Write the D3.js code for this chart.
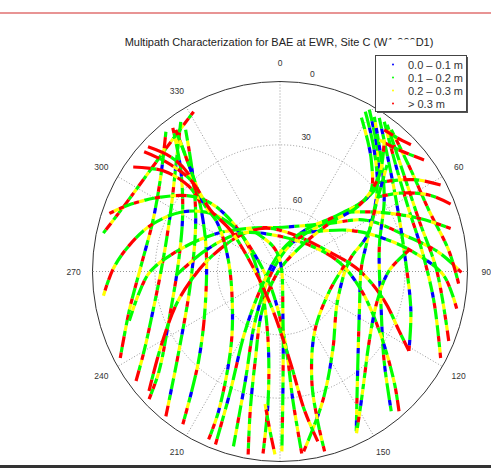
<!DOCTYPE html>
<html><head><meta charset="utf-8">
<script src="https://cdn.jsdelivr.net/npm/d3@7"></script>
<style>
body { margin: 0; background: #fff; }
svg { display: block; font-family: "Liberation Sans", Arial, sans-serif; }
.grid { fill: none; stroke: #8a8a8a; stroke-width: 0.9; stroke-dasharray: 1,2; }
.tick { font-size: 8.5px; fill: #333; }
</style></head><body>
<svg id="chart" width="491" height="468"></svg>
<script>
// azimuth spokes and elevation rings
const azTicks = [0, 30, 60, 90, 120, 150, 180, 210, 240, 270, 300, 330];
const elRings = [30, 60];
const elLabels = [0, 30, 60];

// multipath classes
const classCodes = ["b", "g", "y", "r"];
const classLabels = ["0.0 \u2013 0.1 m", "0.1 \u2013 0.2 m", "0.2 \u2013 0.3 m", "> 0.3 m"];
const classColors = { b: "#0000ff", g: "#00ff00", y: "#ffff00", r: "#ff0000" };

// satellite tracks: [azimuth deg, elevation deg]
const trackPath = [
  [[331.3,3.7],[319.5,9.3],[306.9,11.4],[293.7,9.4],[282.1,3.3]],
  [[320.4,4.1],[308.7,16.8],[291.7,24.4],[272.5,23.3],[255.6,15.3],[241.9,3.1]],
  [[326.1,4.6],[315.3,19.0],[299.0,30.1],[275.3,33.6],[253.1,26.3],[240.0,14.7],[233.1,3.6]],
  [[322.9,4.7],[315.3,22.3],[299.7,36.2],[276.2,41.1],[246.4,31.8],[230.9,15.2],[226.1,2.8]],
  [[326.0,9.0],[317.5,28.0],[301.0,42.8],[264.3,47.0],[232.2,28.6],[218.6,2.2]],
  [[322.5,10.2],[315.3,32.4],[292.5,51.3],[248.9,51.7],[222.7,32.4],[212.8,3.9]],
  [[305.1,3.9],[310.5,16.7],[312.7,30.3],[310.4,40.0]],
  [[313.0,3.4],[316.0,14.6],[316.5,25.7],[311.7,37.7]],
  [[288.6,3.6],[294.1,11.8],[301.7,22.9],[309.8,34.2],[314.2,43.5],[315.6,57.3],[305.0,72.6],[223.5,77.5],[189.9,56.7],[185.3,28.3],[185.4,3.4]],
  [[262.3,4.5],[271.0,10.0],[279.7,16.6],[289.5,24.3],[300.5,34.7],[309.6,46.7],[313.7,60.4],[302.6,75.9],[202.8,80.2],[175.9,57.0],[174.2,28.2],[173.1,3.2]],
  [[252.1,14.0],[261.6,21.7],[270.4,28.1],[283.9,42.4],[301.1,55.0],[325.1,65.0],[3.9,69.0],[46.2,57.0],[59.6,42.0],[75.3,26.0],[83.2,13.3],[90.3,2.9]],
  [[228.0,5.4],[238.3,22.9],[252.1,37.4],[264.3,47.0],[281.3,56.0],[312.0,64.4],[340.8,68.3],[14.7,71.3],[65.9,65.5],[89.3,51.9],[105.4,38.1],[116.2,26.3],[121.3,17.6]],
  [[29.2,2.2],[39.0,15.9],[49.1,28.9],[48.9,45.8],[40.1,62.6],[21.0,76.7],[248.2,84.9],[207.0,63.8],[197.8,35.5],[195.1,4.2]],
  [[28.2,7.3],[39.6,21.3],[49.8,33.9],[46.5,50.6],[31.4,67.1],[0,81.0],[232.1,79.1],[210.7,57.3],[202.8,28.5],[200.7,2.4]],
  [[28.4,3.9],[38.1,16.8],[50.4,29.5],[70.6,45.6],[87.2,50.9],[116.0,47.6],[144.4,26.2],[154.2,5.9]],
  [[31.7,3.9],[42.6,18.2],[55.9,29.6],[76.5,41.0],[110.9,38.0],[130.3,24.5],[141.1,5.0]],
  [[33.2,3.0],[46.1,17.2],[58.7,24.8],[80.5,29.6],[106.5,24.5],[121.3,17.6]],
  [[35.2,3.2],[49.4,16.0],[64.9,21.6],[81.6,21.2],[100.6,14.9],[118.0,2.7]],
  [[36.5,3.5],[52.5,15.0],[70.0,19.0],[89.6,14.8],[112.1,2.6]],
  [[38.5,4.2],[52.6,10.9],[67.9,12.9],[83.0,8.4],[93.8,4.1]],
  [[36.7,6.3],[41.6,5.3],[46.3,3.1]],
  [[37.4,11.5],[44.8,8.9],[52.6,3.0]],
  [[47.8,27.6],[52.8,18.3],[57.0,10.5],[62.0,2.7]],
  [[53.0,31.5],[57.0,21.9],[63.1,9.9],[68.7,2.1]],
  [[47.8,48.2],[59.5,34.7],[69.3,18.7],[76.0,5.6]],
  [[27.8,69.6],[59.6,51.4],[74.3,35.6],[83.5,22.9],[91.4,11.4],[101.7,3.4]],
  [[38.7,10.0],[46.2,24.0],[50.5,40.6],[46.2,57.0],[39.8,75.1],[236.3,88.3],[204.8,69.5],[195.7,46.0],[192.2,22.3],[190.0,2.0]],
  [[172.4,4.0],[161.6,25.2],[146.1,44.7],[116.6,59.1],[81.1,56.3],[67.7,44.7],[54.1,32.4],[45.5,18.0]],
  [[186.5,26.8],[183.6,14.1],[181.6,3.3]],
  [[267.8,40.0],[285.6,52.9],[313.5,63.7],[352.1,72.7],[49.1,71.1],[81.5,61.1],[103.0,49.9],[120.5,34.7],[133.5,14.6],[139.2,2.6]],
  [[327.3,67.9],[342.9,77.0],[0,84.8],[176.3,68.0],[178.4,38.1],[179.4,4.8]],
  [[154.4,5.0],[147.6,17.2],[141.3,25.3],[127.5,36.0],[106.5,41.3],[89.5,37.6],[80.8,27.3]],
  [[323.3,6.3],[318.3,25.6],[311.4,41.1],[307.3,52.3],[281.9,64.7],[230.9,60.6],[212.3,45.5],[204.0,17.5],[203.3,3.4]],
  [[311.0,3.6],[313.5,14.6],[315.3,29.1],[311.1,45.8],[309.4,59.2],[278.4,77.0],[190.2,71.1],[173.6,47.3],[169.8,22.8],[167.3,7.5]],
  [[165.9,2.1],[165.7,16.8],[163.6,35.9],[149.3,57.3],[110.8,64.5],[84.7,58.9]]
];

// multipath class along each track, one letter per stretch
const trackClass = [
  "rgrrygrgyrrgyggrrgygrrgyrgrrygrgyrrg",
  "grryggbgygrgggbyggrygbgrgyygrggrygrgygrrgr",
  "ggrygyggbggyrgyggbgyrggygrggyrgrgygbggrgyggrygrr",
  "rgygggbgbgyggrgygbgggyrgyggbrgyggrgygbggrgyggygrgr",
  "ggyrgggbyggygrggbgyggygrbgygggyrgyrgbggygrggyggbgyrr",
  "rggyggbgggyrggbbgggygrgybggrygyggrrgygbggyrgggbgyrgr",
  "rrrgrrryrrrgrr",
  "rrrrgrrryrrr",
  "ryrggryggrggyrrggyrgygbggyrgggrygggbgyggrggyggrgrygbggyrgygggbyrggyrgr",
  "yrgrryggrgrrggyrggygggbgyggrygggbggyrgbggyggrggbygryrgygbgyrggygbggrygyrggr",
  "ggygyggrgyggyggrgygggyggbgygggyggrygggbgyggyrggyrgyggbgygrggygggyrgygggyr",
  "rrgrrrgyrrrgrrrgyrrrgrrrygrrrgrrgyrrrgryrrgrrrgyrrrgrrrygrrgrrrgyrrgrr",
  "ggbggbgygbggbggyrggygbgggyggrbgygggbrgygggbggygbgrggygbggbyggrgygg",
  "ggyggbgggyrggbggygggrgyggbgrggyggbgyggrgygbggygggbrggyggbgygrggr",
  "gggbgggbgygbgggybggbgggygbggrgygbggygbggrgybgggbgyggrgygbg",
  "gybggbggygbgggbggygbgggrgbyggbggygbggbgyggrgbgygggbg",
  "ggbgyggbggbgygggbggybggygbggrgybggbgygggbr",
  "ggyggrggbgyggrggyggrgbrgyggrgyggbgrggyggrgyr",
  "gyggrggyggrgyrgygrgrgyggrgyggrgyrggygrgyrr",
  "gyrgyggrgygrrgrgyrggyrgyrgrrgr",
  "rrgrrr",
  "yrrgrrgrr",
  "ggrgyrrgyrrr",
  "grgygrrgyrgrrr",
  "ggygrgyggyrgygrggyrgr",
  "ggbgygggyrggygbgyggrgygbggygrggyr",
  "yrggyggrgygrggbyggrgyrgggyrgygrgrgyggbgyrggygrgygbggyrgygrgr",
  "ryggygbgyrggyggbgygrggyrgygygbgyggrgygbggygrgyggbgyg",
  "yrgrygrry",
  "ggrygggbgyggrgyggbgyrggygrgygrrggygbggrygyggrgygbgyrggygrgrr",
  "ggygrgybgygygrgybggyggbgyrgygbggygrgyggy",
  "ygrygbgygygrgyggrgygbgyrggygbgyrggr",
  "rgyggrgbggyggbgyggbgyrggbgygrgyrgygbggyrgyggbgygrggybgyrgr",
  "rrrgrryrrgrrrygrrrgrrrrygrrgrryrrgrrrgyrrrgrrygrrrgrryrrrgrrygrr",
  "rgyrggyrgyggrgyrgygbgyrggyrgygrggyr"
];

const titleText = ["Multipath Characterization for BAE at EWR, Site C (W", "1-999", "D1)"];

const svg = d3.select("#chart");
const cx = 280, cy = 271.5, R = 190, kx = 0.987;

svg.append("rect").attr("width", 491).attr("height", 468).attr("fill", "#fff");
svg.append("line").attr("x1", 0).attr("x2", 491).attr("y1", 13).attr("y2", 13)
  .attr("stroke", "#e07070").attr("stroke-width", 1.5);
svg.append("rect").attr("x", 0).attr("y", 465).attr("width", 491).attr("height", 3).attr("fill", "#333");

const rScale = d3.scaleLinear().domain([90, 0]).range([0, R]);
const aScale = d3.scaleLinear().domain([0, 360]).range([0, 2 * Math.PI]);
const px = (az, el) => cx + kx * rScale(el) * Math.sin(aScale(az));
const py = (az, el) => cy - rScale(el) * Math.cos(aScale(az));

// grid
const grid = svg.append("g");
grid.selectAll(".spoke").data(azTicks).enter().append("line")
  .attr("class", "grid")
  .attr("x1", cx).attr("y1", cy)
  .attr("x2", d => px(d, 0)).attr("y2", d => py(d, 0));
grid.selectAll(".ring").data(elRings).enter().append("ellipse")
  .attr("class", "grid")
  .attr("cx", cx).attr("cy", cy)
  .attr("rx", d => kx * rScale(d)).attr("ry", d => rScale(d));

// tracks
const line = d3.line()
  .x(d => px(d[0], d[1]))
  .y(d => py(d[0], d[1]))
  .curve(d3.curveCatmullRom.alpha(0.5));

function dashFor(codes, c, L) {
  const seg = L / codes.length;
  const arr = [];
  let on = true, cur = 0;
  for (const ch of codes) {
    const isOn = ch === c;
    if (isOn === on) cur += seg;
    else { arr.push(cur); on = !on; cur = seg; }
  }
  arr.push(cur);
  if (arr.length % 2 === 1) arr.push(L + 10);
  return arr.join(" ");
}

const tg = svg.append("g");
trackPath.forEach((pts, i) => {
  const d = line(pts);
  const codes = trackClass[i];
  const probe = tg.append("path").attr("d", d);
  const L = probe.node().getTotalLength();
  probe.remove();
  ["g", "y", "r", "b"].forEach(c => {
    if (codes.indexOf(c) < 0) return;
    tg.append("path")
      .attr("d", d)
      .attr("fill", "none")
      .attr("stroke", classColors[c])
      .attr("stroke-width", 3.2)
      .attr("stroke-dasharray", dashFor(codes, c, L));
  });
});

// outer circle
svg.append("ellipse").attr("cx", cx).attr("cy", cy)
  .attr("rx", kx * R).attr("ry", R)
  .attr("fill", "none").attr("stroke", "#333").attr("stroke-width", 1);

// azimuth labels (the one below the frame is not shown)
const azLab = azTicks.map(d => ({
  v: d,
  x: cx + kx * R * 1.1 * Math.sin(aScale(d)),
  y: cy - R * 1.1 * Math.cos(aScale(d)) + 3
})).filter(d => d.y < 462);
svg.selectAll(".azl").data(azLab).enter().append("text")
  .attr("class", "tick")
  .attr("x", d => d.x).attr("y", d => d.y)
  .attr("text-anchor", "middle")
  .text(d => d.v);

// elevation labels
svg.selectAll(".ell").data(elLabels).enter().append("text")
  .attr("class", "tick")
  .attr("x", d => px(8, d) + 4)
  .attr("y", d => py(8, d) - 6)
  .text(d => d);

// title
const title = svg.append("text")
  .attr("x", 279).attr("y", 46)
  .attr("text-anchor", "middle")
  .attr("font-size", 11).attr("fill", "#222");
titleText.forEach(t => title.append("tspan").text(t));
const tn = title.node();
const i0 = titleText[0].length, i1 = i0 + titleText[1].length;
const e0 = tn.getExtentOfChar(i0), e1 = tn.getExtentOfChar(i1);
svg.append("rect")
  .attr("x", e0.x).attr("y", 39.5)
  .attr("width", e1.x - e0.x).attr("height", 9)
  .attr("fill", "#fff");

// legend
const lg = svg.append("g");
lg.append("rect").attr("x", 377).attr("y", 57).attr("width", 91).attr("height", 56).attr("fill", "#555");
lg.append("rect").attr("x", 375.5).attr("y", 55.5).attr("width", 91).attr("height", 56)
  .attr("fill", "#fff").attr("stroke", "#444").attr("stroke-width", 1);
svg.append("clipPath").attr("id", "lgclip").append("rect")
  .attr("x", 376).attr("y", 56).attr("width", 90).attr("height", 55);
const rows = lg.append("g").attr("clip-path", "url(#lgclip)")
  .selectAll("g").data(classCodes).enter().append("g")
  .attr("transform", (d, i) => `translate(0,${64.5 + i * 13})`);
rows.append("circle").attr("cx", 393).attr("cy", 0).attr("r", 1).attr("fill", d => classColors[d]);
rows.append("text").attr("x", 408).attr("y", 4).attr("font-size", 11).attr("fill", "#333")
  .text((d, i) => classLabels[i]);
</script></body></html>
